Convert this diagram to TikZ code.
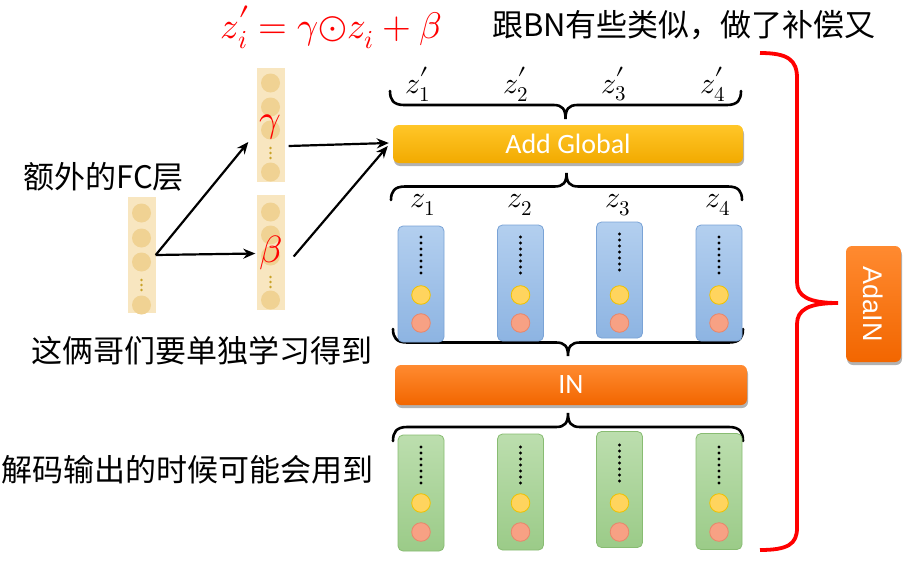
\documentclass[tikz,border=0pt]{standalone}
\usepackage{fontspec}
\usepackage{unicode-math}
\setmainfont{Carlito}
\newfontfamily\cjk{Noto Sans CJK SC}
\newfontfamily\arialf{Liberation Sans}
\newcommand\pr{\rlap{\raisebox{0.15em}{$\prime$}}}
\usetikzlibrary{arrows.meta,shadows,calc}
\definecolor{goldT}{HTML}{FFC628}
\definecolor{goldB}{HTML}{F2AA00}
\definecolor{orT}{HTML}{FF8A30}
\definecolor{orB}{HTML}{F26600}
\definecolor{bluT}{HTML}{B3CFEF}
\definecolor{bluB}{HTML}{8DB4E2}
\definecolor{bluD}{HTML}{7AA3D6}
\definecolor{grnT}{HTML}{BCDEAE}
\definecolor{grnB}{HTML}{9BCB88}
\definecolor{grnD}{HTML}{88BC72}
\definecolor{yelF}{HTML}{FFD45E}
\definecolor{yelD}{HTML}{EFC100}
\definecolor{redF}{HTML}{F7A184}
\definecolor{redD}{HTML}{E8866A}
\definecolor{tanF}{HTML}{F8E6C0}
\definecolor{tanC}{HTML}{F0D293}
\definecolor{tanD}{HTML}{C9A227}
\newcommand\hbrc[4]{%
 \draw[brc] ({#1},{#3}) .. controls ({#1},{#3+0.6*(#4)}) and ({#1+3},{#3+(#4)}) .. ({#1+14},{#3+(#4)})
   -- ({(#1+#2)/2-12},{#3+(#4)}) .. controls ({(#1+#2)/2-3},{#3+(#4)}) and ({(#1+#2)/2},{#3+1.3*(#4)}) .. ({(#1+#2)/2},{#3+2*(#4)})
   .. controls ({(#1+#2)/2},{#3+1.3*(#4)}) and ({(#1+#2)/2+3},{#3+(#4)}) .. ({(#1+#2)/2+12},{#3+(#4)})
   -- ({#2-14},{#3+(#4)}) .. controls ({#2-3},{#3+(#4)}) and ({#2},{#3+0.6*(#4)}) .. ({#2},{#3});}
\begin{document}
\begin{tikzpicture}[x=1pt,y=-1pt,
  bar/.style={rounded corners=6pt, inner sep=0pt, text=white, font=\fontsize{28}{30}\selectfont,
    drop shadow={shadow xshift=1pt, shadow yshift=-3pt, opacity=0.3, fill=black}},
  bcol/.style={draw=bluD, top color=bluT, bottom color=bluB, rounded corners=5pt, line width=0.8pt,
    minimum width=46pt, minimum height=116pt, inner sep=0pt},
  gcol/.style={draw=grnD, top color=grnT, bottom color=grnB, rounded corners=5pt, line width=0.8pt,
    minimum width=46pt, minimum height=116pt, inner sep=0pt},
  tcol/.style={fill=tanF, minimum width=28pt, inner sep=0pt},
  tcirc/.style={fill=tanC},
  ycirc/.style={fill=yelF, draw=yelD, line width=0.8pt},
  rcirc/.style={fill=redF, draw=redD, line width=0.8pt},
  brc/.style={line width=2.6pt, line cap=round},
  arr/.style={line width=2.2pt, -{Stealth[length=12pt,width=10pt]}},
  cjktext/.style={font=\cjk\fontsize{31}{34}\selectfont, inner sep=0pt},
  mlab/.style={font=\fontsize{30}{32}\selectfont, inner sep=0pt},
  glab/.style={text=red, inner sep=0pt, font=\fontsize{38}{40}\selectfont}]
\useasboundingbox (0,0) rectangle (918,570);
\fill[white] (0,0) rectangle (918,570);

% title texts
\node[text=red, inner sep=0pt, font=\fontsize{37}{40}\selectfont] (eq) at (331,27) {$z\pr_i = \gamma{\odot}z_i + \beta$};
\node[cjktext, anchor=west] (t1) at (492,25) {跟BN有些类似，做了补偿又};
\node[cjktext, anchor=west] (t2) at (23,177) {额外的FC层};
\node[cjktext, anchor=west] (t3) at (31,351) {这俩哥们要单独学习得到};
\node[cjktext, anchor=west] (t4) at (1,470) {解码输出的时候可能会用到};

% FC column
\node[tcol, minimum height=116pt] (fc) at (141.5,255) {};
\foreach \y in {213,238,262,305} \fill[tcirc] (141.5,\y) circle (9.5);
\foreach \y in {280,285,290} \fill[tanD] (141.5,\y) circle (1.3);
% gamma column
\node[tcol, minimum height=114pt] (gam) at (270.5,125) {};
\foreach \y in {83,107,130,172} \fill[tcirc] (270.5,\y) circle (9.5);
\foreach \y in {148,153,158} \fill[tanD] (270.5,\y) circle (1.3);
\node[glab] (gsym) at (270.5,127) {$\gamma$};
% beta column
\node[tcol, minimum height=115pt] (bet) at (270.5,252.5) {};
\foreach \y in {212,235,256,300} \fill[tcirc] (270.5,\y) circle (9.5);
\foreach \y in {277,282,287} \fill[tanD] (270.5,\y) circle (1.3);
\node[glab] (bsym) at (270.5,253) {$\beta$};

% bars
\node[bar, top color=goldT, bottom color=goldB, minimum width=350pt, minimum height=38pt] (addg) at (568,144) {Add Global};
\node[bar, top color=orT, bottom color=orB, minimum width=352pt, minimum height=40pt] (in) at (571,385) {IN};

% arrows
\coordinate (gout) at ($(gam.east)+(4,21)$);
\coordinate (bout) at ($(bet.east)+(9,4)$);
\coordinate (gin) at ($(gam.west)+(-8,17)$);
\draw[arr] (fc.east) -- (gin);
\draw[arr] (fc.east) -- ($(bet.west)+(-1,1)$);
\draw[arr] (gout) -- ($(addg.west)+(-4,-1)$);
\draw[arr] (bout) -- ($(addg.west)+(-5,2)$);

% z' labels
\node[mlab] (zp1) at (418,84) {$z\pr_1$};
\node[mlab] (zp2) at (516,84) {$z\pr_2$};
\node[mlab] (zp3) at (614,84) {$z\pr_3$};
\node[mlab] (zp4) at (713,84) {$z\pr_4$};
% z labels
\node[mlab] (z1) at (423,205) {$z_1$};
\node[mlab] (z2) at (520,205) {$z_2$};
\node[mlab] (z3) at (618,205) {$z_3$};
\node[mlab] (z4) at (718,205) {$z_4$};

% braces
\hbrc{390}{741}{91}{14}
\hbrc{391}{742}{200}{-13.5}
\hbrc{393}{743}{329}{13.5}
\hbrc{393}{743}{441}{-14}

% blue columns
\node[bcol] (b1) at (421,284) {};
\node[bcol] (b2) at (520.5,283) {};
\node[bcol] (b3) at (619.5,280) {};
\node[bcol] (b4) at (719,283) {};
\foreach \x/\s in {421/0,520.5/0,619.5/-3,719/0}{
  \foreach \k in {0,...,6} \fill (\x,{237+\s+6*\k}) circle (1.7);
  \filldraw[ycirc] (\x,295) circle (9.3);
  \filldraw[rcirc] (\x,323) circle (9.3);
}
% green columns
\node[gcol] (g1) at (421,493) {};
\node[gcol] (g2) at (520.5,492) {};
\node[gcol] (g3) at (619.5,489.5) {};
\node[gcol] (g4) at (719,491.5) {};
\foreach \x/\s in {421/0,520.5/0,619.5/-2,719/0}{
  \foreach \k in {0,...,6} \fill (\x,{447+\s+6*\k}) circle (1.7);
  \filldraw[ycirc] (\x,503) circle (9.3);
  \filldraw[rcirc] (\x,532) circle (9.3);
}

% red brace
\draw[red, line width=3.8pt] (760,53) .. controls (788,53) and (797,60) .. (797,78) -- (797,282)
  .. controls (797,296) and (808,303) .. (838,303)
  .. controls (808,303) and (797,310) .. (797,324) -- (797,528)
  .. controls (797,544) and (788,550) .. (760,550);

% AdaIN box
\node[rotate=-90, rounded corners=6pt, top color=orT, bottom color=orB, minimum width=116pt, minimum height=55pt,
  inner sep=0pt, text=white, font=\arialf\fontsize{27}{30}\selectfont,
  drop shadow={shadow xshift=1pt, shadow yshift=-3pt, opacity=0.3, fill=black}] (adain) at (873.5,304) {AdaIN};
\end{tikzpicture}
\end{document}
